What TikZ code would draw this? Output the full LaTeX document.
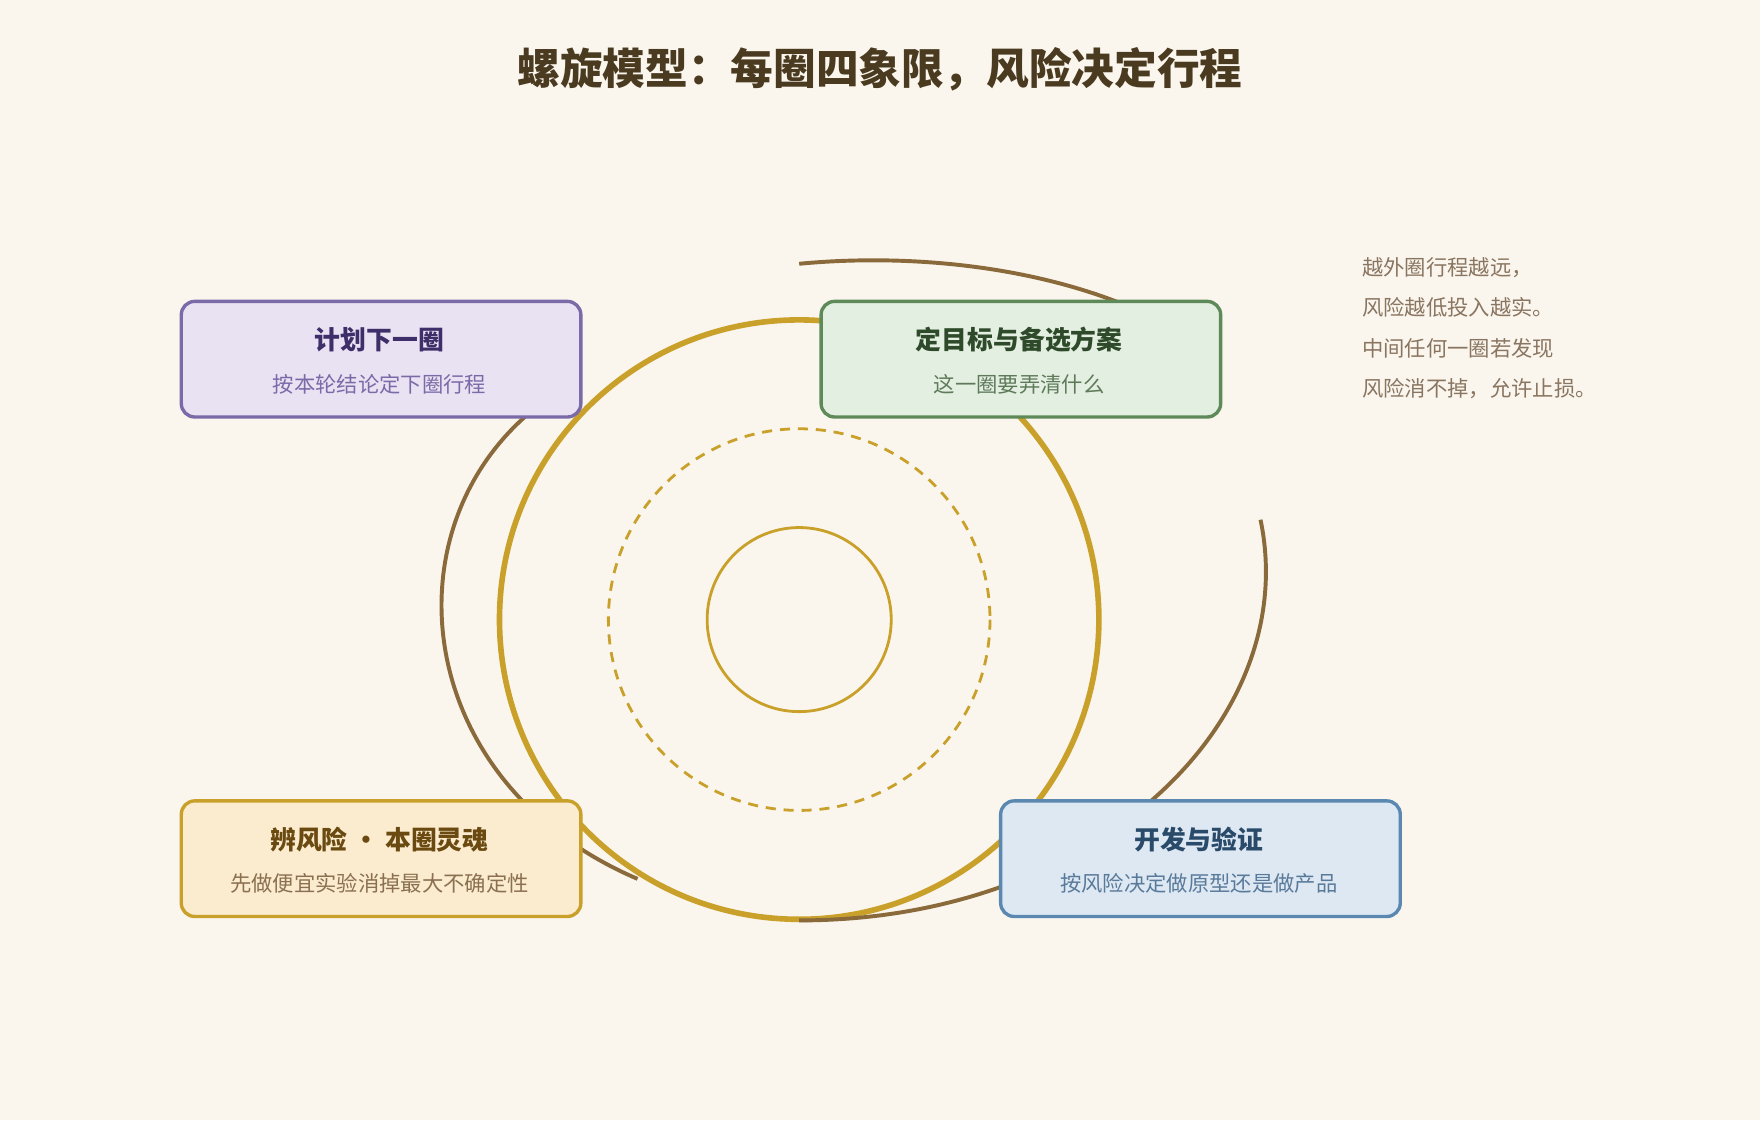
\documentclass[tikz,border=0pt]{standalone}
\usepackage{fontspec}
\setmainfont{Noto Sans CJK SC}
\definecolor{bg}{HTML}{FAF6EE}
\definecolor{goldc}{HTML}{C9A02A}
\definecolor{spirc}{HTML}{8A6A3A}
\definecolor{titc}{HTML}{4A3A20}
\definecolor{pB}{HTML}{7B6AA8}\definecolor{pF}{HTML}{E8E2F2}\definecolor{pT}{HTML}{3E2F6A}
\definecolor{gB}{HTML}{5E8A5A}\definecolor{gF}{HTML}{E3EFE0}\definecolor{gT}{HTML}{2E4A2A}\definecolor{gS}{HTML}{5E7A5A}
\definecolor{oF}{HTML}{FBEBCF}\definecolor{oT}{HTML}{6A4A10}\definecolor{oS}{HTML}{8A7050}
\definecolor{bB}{HTML}{5A88B0}\definecolor{bF}{HTML}{DDE8F3}\definecolor{bT}{HTML}{2A4A6A}\definecolor{bS}{HTML}{5A7A9A}
\definecolor{noteC}{HTML}{8A7560}
\begin{document}
\begin{tikzpicture}[x=1pt,y=-1pt,
  box/.style={rounded corners=12pt,line width=3pt,minimum width=356pt,minimum height=103pt,anchor=north west},
  ttl/.style={font=\fontsize{23}{26}\selectfont\bfseries},
  sub/.style={font=\fontsize{19}{22}\selectfont},
  gold/.style={draw=goldc},
  spir/.style={draw=spirc,line width=3.5pt}]
\fill[bg] (0,0) rectangle (1568,998);
\useasboundingbox (0,0) rectangle (1568,998);
\node[font=\fontsize{38}{42}\selectfont\bfseries,text=titc] (title) at (784,62) {螺旋模型：每圈四象限，风险决定行程};
\coordinate (c) at (712,552);
\draw[gold,line width=2.5pt] (c) circle (82);
\draw[gold,line width=2.5pt,dash pattern=on 9pt off 7pt] (c) circle (170);
\draw[gold,line width=5pt] (c) circle (267);
\coordinate (s1a) at (712,235); \coordinate (s1b) at (1087,320);
\coordinate (s2a) at (1123,463); \coordinate (s2b) at (712,820);
\coordinate (s3a) at (568,783); \coordinate (s3b) at (516,338);
\draw[spir] (s1a) .. controls (850,222) and (1000,250) .. (s1b);
\draw[spir] (s2a) .. controls (1160,640) and (980,820) .. (s2b);
\draw[spir] (s3a) .. controls (350,690) and (340,430) .. (s3b);
\node[box,draw=pB,fill=pF] (plan) at (160,267) {};
\node[ttl,text=pT] (planT) at (338,303) {计划下一圈};
\node[sub,text=pB] (planS) at (338,342) {按本轮结论定下圈行程};
\node[box,draw=gB,fill=gF] (goal) at (730,267) {};
\node[ttl,text=gT] (goalT) at (908,303) {定目标与备选方案};
\node[sub,text=gS] (goalS) at (908,342) {这一圈要弄清什么};
\node[box,draw=goldc,fill=oF] (risk) at (160,712) {};
\node[ttl,text=oT] (riskT) at (338,748) {辨风险 • 本圈灵魂};
\node[sub,text=oS] (riskS) at (338,787) {先做便宜实验消掉最大不确定性};
\node[box,draw=bB,fill=bF] (dev) at (890,712) {};
\node[ttl,text=bT] (devT) at (1068,748) {开发与验证};
\node[sub,text=bS] (devS) at (1068,787) {按风险决定做原型还是做产品};
\node[anchor=north west,align=left,font=\fontsize{19}{36}\selectfont,text=noteC] (note) at (1210,226)
 {越外圈行程越远，\\风险越低投入越实。\\中间任何一圈若发现\\风险消不掉，允许止损。};
\end{tikzpicture}
\end{document}
